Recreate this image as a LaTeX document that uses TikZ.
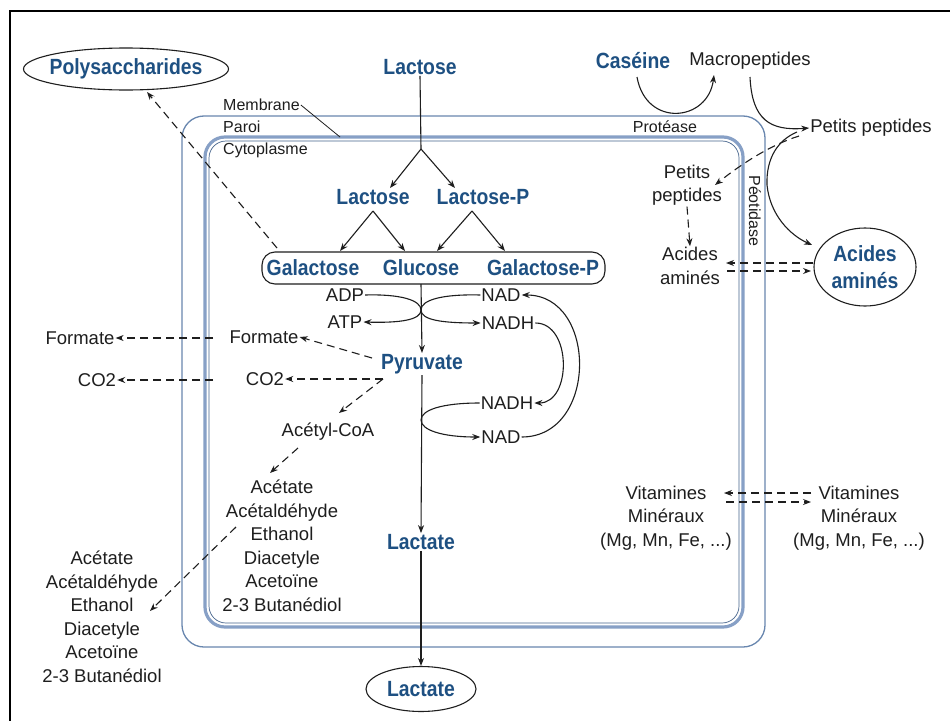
\documentclass[tikz,border=0pt]{standalone}
\usepackage{fontspec}
\setmainfont{Liberation Sans}
\newfontfamily\blfont[FakeStretch=0.88]{Liberation Sans}
\usetikzlibrary{arrows.meta,shapes.geometric}
\definecolor{tblue}{RGB}{30,80,130}
\definecolor{cellA}{RGB}{105,135,175}
\definecolor{cellB}{RGB}{135,160,198}
\definecolor{cellC}{RGB}{70,100,140}
\definecolor{edge}{RGB}{30,30,30}
\begin{document}
\begin{tikzpicture}[x=1pt,y=-1pt,
  bl/.style={font=\blfont\fontsize{22}{25}\selectfont\bfseries, text=tblue, inner sep=1pt, align=center},
  tx/.style={font=\fontsize{18.5}{23.5}\selectfont, text=edge, inner sep=1pt, align=center},
  sm/.style={font=\fontsize{16}{23}\selectfont, text=edge, inner sep=1pt},
  ln/.style={draw=edge, line width=1.1pt},
  arr/.style={ln, -{Stealth[length=8pt,width=6pt]}},
  darr/.style={arr, dash pattern=on 8pt off 5pt},
  oval/.style={ellipse, draw=edge, line width=1.1pt, inner sep=0pt}
]
\useasboundingbox (0,0) rectangle (950,720);
\fill[white] (0,0) rectangle (950,720);
% frame
\draw[black, line width=1.6pt] (10,722) -- (10,11) -- (952,11);

% cell walls
\draw[cellA, line width=1.3pt, rounded corners=22pt] (182,116) rectangle (765,647);
\draw[cellB, line width=3.2pt, rounded corners=20pt] (205,137) rectangle (743,627);
\draw[cellC, line width=0.7pt, rounded corners=17pt] (209,141) rectangle (739,623);

% labels of walls
\node[sm, anchor=west] (memb) at (222,105) {Membrane};
\node[sm, anchor=west] (paroi) at (222,127) {Paroi};
\node[sm, anchor=west] (cyto) at (222,150) {Cytoplasme};
\coordinate (membEnd) at (340,137);
\draw[ln, line width=0.8pt] (memb.east) -- (membEnd);
\node[sm] (prot) at (665,127) {Protéase};
\node[sm, rotate=-90] (peot) at (755,211) {Péotidase};

% sugar pathway
\node[oval, minimum width=205, minimum height=42] (poly) at (126,69) {};
\node[bl] (polyT) at (poly) {Polysaccharides};
\node[bl] (lac0) at (420,67) {Lactose};
\coordinate (br1) at (421,149);
\node[bl] (lac1) at (373,197) {Lactose};
\node[bl] (lacP) at (483,197) {Lactose-P};
\coordinate (br2) at (373,211);
\coordinate (br3) at (472,211);
\coordinate (a1) at (390,188);
\coordinate (a2) at (455,188);
\draw[ln] (lac0.south) -- (br1);
\draw[arr] (br1) -- (a1);
\draw[arr] (br1) -- (a2);

\node[draw=edge, line width=1.1pt, rounded corners=13pt, minimum width=343, minimum height=32] (box) at (433.5,268) {};
\node[bl] (gal) at (313,268) {Galactose};
\node[bl] (glc) at (421,268) {Glucose};
\node[bl] (galP) at (543,268) {Galactose-P};
\coordinate (b1) at (340,251);
\coordinate (b2) at (405,251);
\coordinate (b3) at (437,251);
\coordinate (b4) at (505,251);
\draw[arr] (br2) -- (b1);
\draw[arr] (br2) -- (b2);
\draw[arr] (br3) -- (b3);
\draw[arr] (br3) -- (b4);

\node[bl] (pyr) at (422,364) {Pyruvate};
\node[bl] (lact) at (421,542) {Lactate};
\node[oval, minimum width=110, minimum height=45] (lactE) at (421,689) {};
\node[bl] (lactET) at (lactE) {Lactate};
\coordinate (boxS) at (421,284);
\draw[arr] (boxS) -- (pyr.north);
\draw[arr] (pyr.south) -- (lact.north);
\draw[arr] (lact.south) -- (lactE.north);

% cofactors
\node[tx] (adp) at (345,295) {ADP};
\node[tx] (atp) at (345,322) {ATP};
\node[tx] (nad1) at (501,295) {NAD};
\node[tx] (nadh1) at (508,323) {NADH};
\node[tx] (nadh2) at (507,403) {NADH};
\node[tx] (nad2) at (501,437) {NAD};
\draw[arr] (adp.east) .. controls (400,294) and (421,300) .. (421,310) .. controls (421,320) and (400,323) .. (atp.east);
\draw[arr] (nad1.west) .. controls (442,294) and (421,300) .. (421,310) .. controls (421,320) and (442,323) .. (nadh1.west);
\draw[arr] (nadh2.west) .. controls (442,403) and (421,410) .. (421,420) .. controls (421,430) and (442,437) .. (nad2.west);
\draw[arr] (nadh1.east) .. controls (572,323) and (572,403) .. (nadh2.east);
\draw[arr] (nad2.east) .. controls (598,437) and (598,295) .. (nad1.east);

% by-products
\node[tx] (formI) at (264,337) {Formate};
\node[tx] (formO) at (80,338) {Formate};
\node[tx] (co2I) at (265,379) {CO2};
\node[tx] (co2O) at (97,380) {CO2};
\coordinate (pyF) at (372,358);
\coordinate (pyJ) at (383,379);
\coordinate (wF) at (213,338);
\coordinate (wC) at (213,380);
\draw[darr] (pyF) -- (formI.east);
\draw[darr] (pyJ) -- (co2I.east);
\draw[darr] (wF) -- (formO.east);
\draw[darr] (wC) -- (co2O.east);
\node[tx] (acoa) at (328,432) {Acétyl-CoA};
\coordinate (acoaT) at (339,413);
\draw[darr] (pyJ) -- (acoaT);
\node[tx] (listI) at (282,546) {Acétate\\Acétaldéhyde\\Ethanol\\Diacetyle\\Acetoïne\\2-3 Butanédiol};
\node[tx] (listO) at (102,617) {Acétate\\Acétaldéhyde\\Ethanol\\Diacetyle\\Acetoïne\\2-3 Butanédiol};
\coordinate (acoaS) at (298,448);
\coordinate (listIT) at (270,473);
\draw[darr] (acoaS) -- (listIT);
\coordinate (listIS) at (236,527);
\coordinate (listOT) at (150,611);
\draw[darr] (listIS) -- (listOT);
\coordinate (galNW) at (277,248);
\coordinate (polyT2) at (147,92);
\draw[darr] (galNW) -- (polyT2);

% proteins
\node[bl] (cas) at (633,61) {Caséine};
\node[tx] (macro) at (750,61) {Macropeptides};
\node[tx] (ppO) at (871,128) {Petits peptides};
\node[tx] (ppI) at (687,185) {Petits\\peptides};
\node[tx] (aaI) at (690,266) {Acides\\aminés};
\node[oval, minimum width=102, minimum height=78] (aaE) at (865,267) {};
\node[bl, font=\blfont\fontsize{22}{27}\selectfont\bfseries] (aaET) at (aaE) {Acides\\aminés};
\coordinate (casS) at (637,77);
\coordinate (macroT) at (714,75);
\draw[arr] (casS) .. controls (646,128) and (708,122) .. (macroT);
\coordinate (macroS) at (750,77);
\draw[arr] (macroS) .. controls (752,120) and (770,131) .. (ppO.west);
\coordinate (jn) at (797,132);
\coordinate (aaT) at (812,245);
\draw[arr] (jn) .. controls (778,140) and (766,158) .. (767,185) .. controls (770,215) and (790,235) .. (aaT);
\coordinate (jn2) at (799,136);
\coordinate (ppIT) at (715,185);
\draw[darr] (jn2) .. controls (770,145) and (740,165) .. (ppIT);
\draw[darr] (ppI.south) -- (aaI.north);
\coordinate (aaU1) at (813,263);
\coordinate (aaU2) at (726,263);
\coordinate (aaL1) at (727,271);
\coordinate (aaL2) at (811,271);
\draw[darr] (aaU1) -- (aaU2);
\draw[darr] (aaL1) -- (aaL2);

% vitamins
\node[tx] (vitI) at (666,518) {Vitamines\\Minéraux\\(Mg, Mn, Fe, ...)};
\node[tx] (vitO) at (859,518) {Vitamines\\Minéraux\\(Mg, Mn, Fe, ...)};
\coordinate (vU1) at (811,493);
\coordinate (vU2) at (724,493);
\coordinate (vL1) at (726,502);
\coordinate (vL2) at (811,502);
\draw[darr] (vU1) -- (vU2);
\draw[darr] (vL1) -- (vL2);
\end{tikzpicture}
\end{document}
